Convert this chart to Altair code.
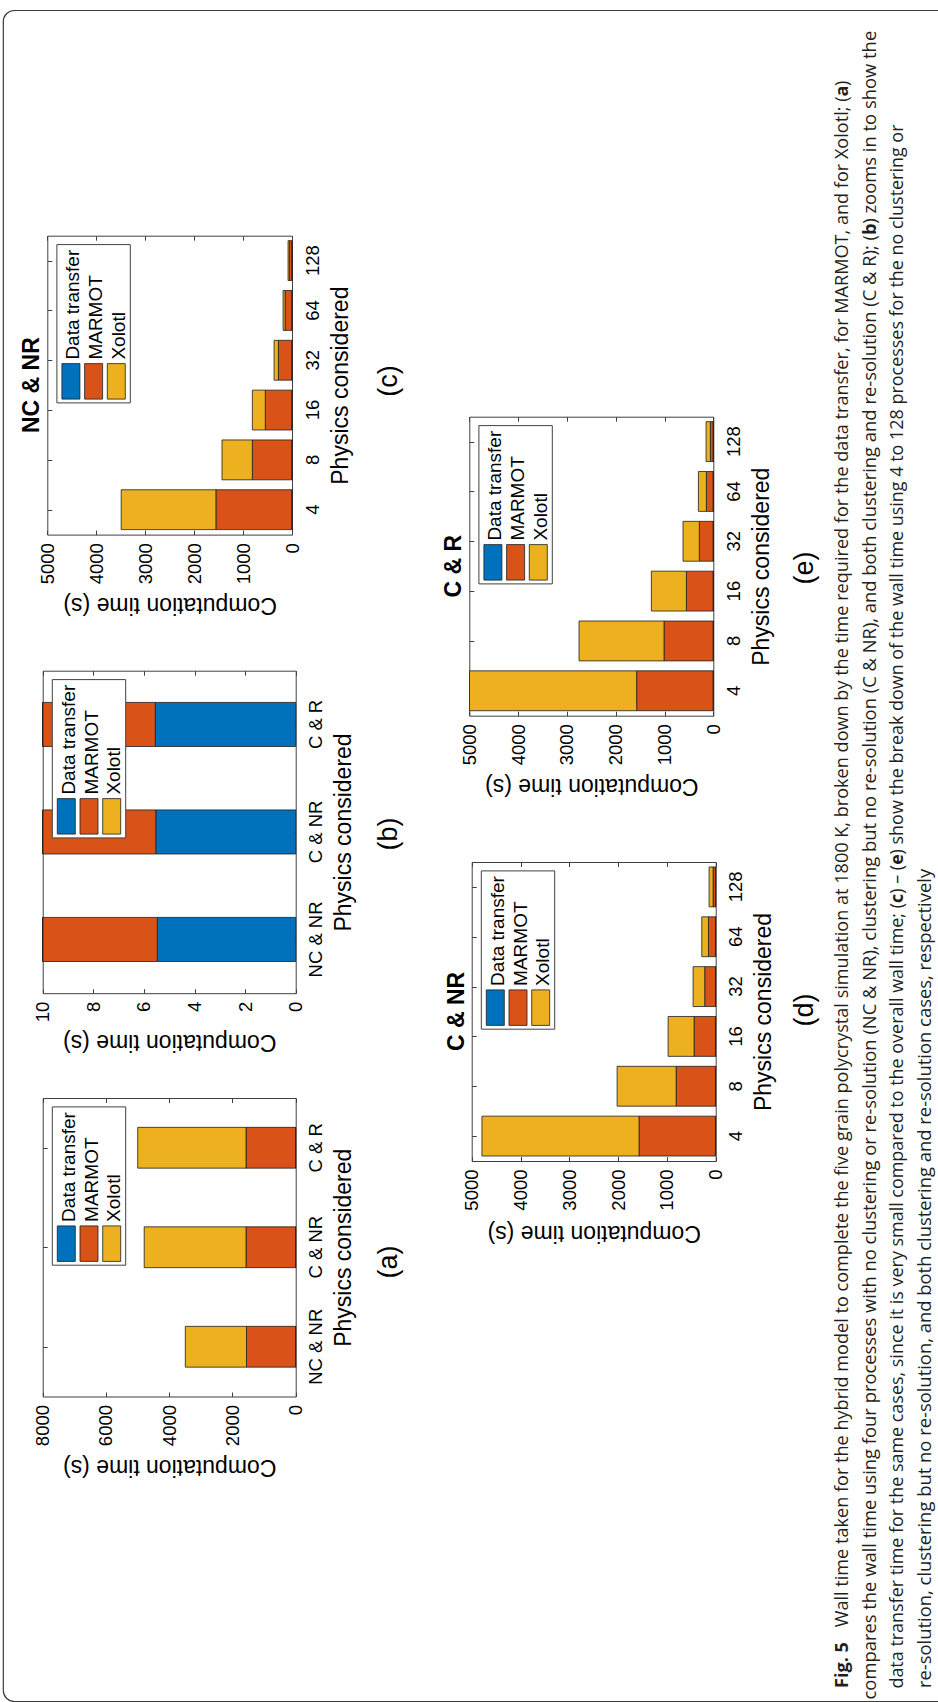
import altair as alt
import pandas as pd

W, H = 938, 1702

SERIES = ["Data transfer", "MARMOT", "Xolotl"]
SERIES_COLORS = ["#0072BD", "#D95319", "#EDB120"]

# (a) and (b): four processes, three physics cases
cases = ["NC & NR", "C & NR", "C & R"]
cases_transfer = [5.47, 5.53, 5.55]
cases_marmot = [1550, 1565, 1565]
cases_xolotl = [1935, 3220, 3425]

# (c)-(e): number of processes
procs = ["4", "8", "16", "32", "64", "128"]

ncnr_transfer = [5.47, 5.5, 5.5, 5.5, 5.5, 5.5]
ncnr_marmot = [1550, 805, 540, 273, 136, 48]
ncnr_xolotl = [1935, 620, 265, 88, 41, 27]

cnr_transfer = [5.53, 5.5, 5.5, 5.5, 5.5, 5.5]
cnr_marmot = [1565, 806, 437, 219, 143, 48]
cnr_xolotl = [3220, 1209, 533, 239, 137, 82]

cr_transfer = [5.55, 5.5, 5.5, 5.5, 5.5, 5.5]
cr_marmot = [1565, 1004, 546, 280, 137, 55]
cr_xolotl = [3425, 1742, 718, 335, 163, 88]

ticks_a = [0, 2000, 4000, 6000, 8000]
ticks_b = [0, 2, 4, 6, 8, 10]
ticks_cde = [0, 1000, 2000, 3000, 4000, 5000]

AX_FONT = "Liberation Sans"
CAP_FONT = "Open Sans"
FRAME = "#404040"
EDGE = "#1e1e1e"

# page placement of each (rotated) panel: plot-frame edges in pixels
panels = [
    dict(cats=cases, parts=[cases_transfer, cases_marmot, cases_xolotl], vmax=8000, ticks=ticks_a,
         left=42.7, right=295.7, top=1098.0, bottom=1396.5, band=0.41, title=None,
         label="(a)", label_x=397, label_y=1262, title_dy=70),
    dict(cats=cases, parts=[cases_transfer, cases_marmot, cases_xolotl], vmax=10, ticks=ticks_b,
         left=42.7, right=295.7, top=670.7, bottom=993.2, band=0.41, title=None,
         label="(b)", label_x=397, label_y=834, title_dy=48),
    dict(cats=procs, parts=[ncnr_transfer, ncnr_marmot, ncnr_xolotl], vmax=5000, ticks=ticks_cde,
         left=47.3, right=292.0, top=235.7, bottom=534.6, band=0.8, title="NC & NR",
         label="(c)", label_x=397, label_y=381, title_dy=70),
    dict(cats=procs, parts=[cnr_transfer, cnr_marmot, cnr_xolotl], vmax=5000, ticks=ticks_cde,
         left=471.7, right=715.7, top=862.0, bottom=1161.0, band=0.8, title="C & NR",
         label="(d)", label_x=813, label_y=1010, title_dy=71),
    dict(cats=procs, parts=[cr_transfer, cr_marmot, cr_xolotl], vmax=5000, ticks=ticks_cde,
         left=469.3, right=713.3, top=416.7, bottom=715.7, band=0.8, title="C & R",
         label="(e)", label_x=813, label_y=568, title_dy=70),
]

# caption lines: (line centre x, font size, segments); each segment is
# (text, bold, anchor y, align) and runs upward from / down to its anchor
caption_lines = [
    (842.5, 18.1, [("Fig. 5", True, 1688, "left"),
                   ("Wall time taken for the hybrid model to complete the five grain polycrystal simulation at "
                    "1800 K, broken down by the time required for the data transfer, for MARMOT, and for Xolotl; (",
                    False, 96.5, "right"),
                   ("a", True, 96.5, "left"), (")", False, 85.9, "left")]),
    (870.0, 18.4, [("compares the wall time using four processes with no clustering or re-solution (NC & NR), "
                    "clustering but no re-solution (C & NR), and both clustering and re-solution (C & R); (",
                    False, 235, "right"),
                   ("b", True, 235, "left"), (") zooms in to show the", False, 223.7, "left")]),
    (897.5, 17.95, [("data transfer time for the same cases, since it is very small compared to the overall "
                     "wall time; (", False, 903, "right"),
                    ("c", True, 903, "left"), (") \u2013 (", False, 893.8, "left"), ("e", True, 864.8, "left"),
                    (") show the break down of the wall time using 4 to 128 processes for the no clustering or",
                     False, 854.4, "left")]),
    (925.0, 18.4, [("re-solution, clustering but no re-solution, and both clustering and re-solution cases, "
                    "respectively", False, 1688, "left")]),
]


def stacked(cats, parts):
    rows = []
    for i, c in enumerate(cats):
        start = 0.0
        for s, vals in zip(SERIES, parts):
            rows.append({"cat": c, "series": s, "start": start, "end": start + vals[i]})
            start += vals[i]
    return pd.DataFrame(rows)


color_enc = alt.Color("series:N", scale=alt.Scale(domain=SERIES, range=SERIES_COLORS), legend=None)


def panel_layers(p):
    df = stacked(p["cats"], p["parts"])
    pad = 1 - p["band"]
    xs = alt.Scale(domain=[0, p["vmax"]], range=[p["right"], p["left"]], clamp=True, nice=False, zero=False)
    ys = alt.Scale(domain=list(reversed(p["cats"])), range=[p["top"], p["bottom"]],
                   paddingInner=pad, paddingOuter=pad / 2)
    mid_x = (p["left"] + p["right"]) / 2
    mid_y = (p["top"] + p["bottom"]) / 2

    bars = alt.Chart(df).mark_bar(stroke=EDGE, strokeWidth=0.8).encode(
        x=alt.X("start:Q", scale=xs, axis=alt.Axis(
            orient="bottom", offset=p["bottom"] - H, values=p["ticks"], format="d",
            ticks=False, grid=False, domain=True, domainColor=FRAME, domainWidth=1,
            labelAngle=270, labelAlign="right", labelBaseline="middle", labelPadding=8,
            labelOverlap=False, labelFlush=False, labelBound=False,
            labelFont=AX_FONT, labelFontSize=18.5, labelColor="black",
            title="Computation time (s)", titleAngle=180, titleAlign="center", titleBaseline="middle",
            titleX=mid_x, titleY=p["title_dy"], titleFont=AX_FONT, titleFontSize=23,
            titleFontWeight="normal", titleColor="black")),
        x2="end:Q",
        y=alt.Y("cat:N", scale=ys, sort=None, axis=alt.Axis(
            orient="right", offset=p["right"] - W, ticks=False, grid=False,
            domain=True, domainColor=FRAME, domainWidth=1,
            labelAngle=270, labelAlign="center", labelBaseline="top", labelPadding=11,
            labelOverlap=False, labelFlush=False, labelBound=False,
            labelFont=AX_FONT, labelFontSize=18.5, labelColor="black",
            title="Physics considered", titleAngle=270, titleAlign="center", titleBaseline="middle",
            titleX=48, titleY=mid_y, titleFont=AX_FONT, titleFontSize=23,
            titleFontWeight="normal", titleColor="black")),
        color=color_enc,
    )

    # inward ticks on the bottom and right sides of the box
    inner1 = alt.Chart(df).mark_point(opacity=0).encode(
        x=alt.X("end:Q", scale=xs, axis=alt.Axis(
            orient="top", offset=-p["bottom"], values=p["ticks"], labels=False, domain=False,
            ticks=True, tickSize=4.5, tickColor=FRAME, tickWidth=1, grid=False, title=None)),
        y=alt.Y("cat:N", scale=ys, sort=None, axis=alt.Axis(
            orient="left", offset=-p["right"], labels=False, domain=False,
            ticks=True, tickSize=4.5, tickColor=FRAME, tickWidth=1, grid=False, title=None)),
    )

    # top and left sides of the box, with their inward ticks
    inner2 = alt.Chart(df).mark_point(opacity=0).encode(
        x=alt.X("end:Q", scale=xs, axis=alt.Axis(
            orient="bottom", offset=p["top"] - H, values=p["ticks"], labels=False,
            domain=True, domainColor=FRAME, domainWidth=1,
            ticks=True, tickSize=4.5, tickColor=FRAME, tickWidth=1, grid=False, title=None)),
        y=alt.Y("cat:N", scale=ys, sort=None, axis=alt.Axis(
            orient="right", offset=p["left"] - W, labels=False,
            domain=True, domainColor=FRAME, domainWidth=1,
            ticks=True, tickSize=4.5, tickColor=FRAME, tickWidth=1, grid=False, title=None)),
    )
    return [bars, inner1, inner2]


# legend boxes, swatches and entries, one legend inside each panel
box_rows, sw_rows = [], []
for p in panels:
    bx0, by0 = p["left"] + 9.6, p["top"] + 8.9
    box_rows.append({"x0": bx0, "x1": bx0 + 73.4, "y0": by0, "y1": by0 + 158.3})
    for i, s in enumerate(SERIES):
        sx0 = bx0 + 5 + 22.7 * i
        sw_rows.append({"series": s, "x0": sx0, "x1": sx0 + 18, "y0": by0 + 119, "y1": by0 + 154.5,
                        "tx": sx0 + 17.5, "ty": by0 + 115})
box_df = pd.DataFrame(box_rows)
sw_df = pd.DataFrame(sw_rows)

legend_box = alt.Chart(box_df).mark_rect(fill="white", stroke=FRAME, strokeWidth=1).encode(
    x=alt.X("x0:Q", scale=None), x2="x1:Q", y=alt.Y("y0:Q", scale=None), y2="y1:Q")
legend_sw = alt.Chart(sw_df).mark_rect(stroke=EDGE, strokeWidth=0.8).encode(
    x=alt.X("x0:Q", scale=None), x2="x1:Q", y=alt.Y("y0:Q", scale=None), y2="y1:Q", color=color_enc)
legend_txt = alt.Chart(sw_df).mark_text(
    angle=270, align="left", baseline="alphabetic", font=AX_FONT, fontSize=19, color="black").encode(
    x=alt.X("tx:Q", scale=None), y=alt.Y("ty:Q", scale=None), text="series:N")

title_df = pd.DataFrame([{"t": p["title"], "x": p["left"] - 8, "y": (p["top"] + p["bottom"]) / 2}
                         for p in panels if p["title"]])
titles = alt.Chart(title_df).mark_text(
    angle=270, align="center", baseline="alphabetic", font=AX_FONT, fontSize=23, fontWeight="bold",
    color="black").encode(x=alt.X("x:Q", scale=None), y=alt.Y("y:Q", scale=None), text="t:N")

label_df = pd.DataFrame([{"t": p["label"], "x": p["label_x"], "y": p["label_y"]} for p in panels])
labels = alt.Chart(label_df).mark_text(
    angle=270, align="center", baseline="alphabetic", font=AX_FONT, fontSize=27, color="black").encode(
    x=alt.X("x:Q", scale=None), y=alt.Y("y:Q", scale=None), text="t:N")

cap_rows = []
for xc, fs, segs in caption_lines:
    for txt, bold, y0, align in segs:
        cap_rows.append({"t": txt, "x": xc, "y": y0, "fs": fs, "bold": bold, "align": align})
cap_df = pd.DataFrame(cap_rows)


def caption_layer(bold, align):
    sub = cap_df[(cap_df["bold"] == bold) & (cap_df["align"] == align)]
    return alt.Chart(sub).mark_text(
        angle=270, align=align, baseline="middle", font=CAP_FONT,
        fontWeight="bold" if bold else "normal", color="#231f20").encode(
        x=alt.X("x:Q", scale=None), y=alt.Y("y:Q", scale=None),
        size=alt.Size("fs:Q", scale=None), text="t:N")


border = alt.Chart(pd.DataFrame({"k": [0]})).mark_rect(
    fillOpacity=0, stroke="#3a3a3a", strokeWidth=1.2, cornerRadius=11).encode(
    x=alt.value(3.3), x2=alt.value(990), y=alt.value(10.5), y2=alt.value(1701.5))

layers = [border]
for p in panels:
    layers += panel_layers(p)
layers += [legend_box, legend_sw, legend_txt, titles, labels,
           caption_layer(False, "left"), caption_layer(False, "right"), caption_layer(True, "left")]

chart = alt.layer(*layers).resolve_scale(
    x="independent", y="independent", color="shared"
).resolve_axis(
    x="independent", y="independent"
).properties(
    width=W, height=H, padding=0, autosize=alt.AutoSizeParams(type="none"), background="white"
).configure_view(stroke=None)

chart.save("out.html", embed_options={"renderer": "svg", "actions": False})
